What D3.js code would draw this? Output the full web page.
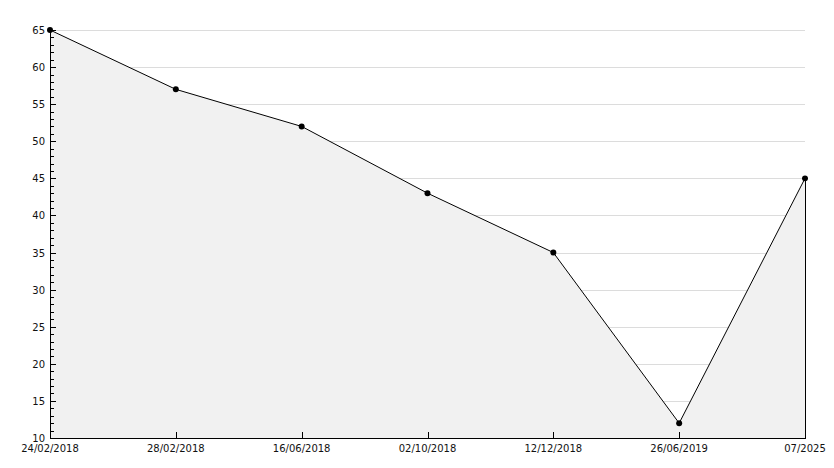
<!DOCTYPE html>
<html><head><meta charset="utf-8">
<script src="https://cdn.jsdelivr.net/npm/d3@7"></script>
<style>body{margin:0;background:#fff}svg{display:block}</style>
</head><body>
<script>
const categories = ["24/02/2018","28/02/2018","16/06/2018","02/10/2018","12/12/2018","26/06/2019","07/2025"];
const values = [65, 57, 52, 43, 35, 12, 45];
const yTicks = [10,15,20,25,30,35,40,45,50,55,60,65];

const W = 834, H = 468;
const svg = d3.select("body").append("svg").attr("width", W).attr("height", H);
const x = d3.scalePoint().domain(categories).range([50, 805]);
const y = d3.scaleLinear().domain([10, 65]).range([438, 30]);
const font = "'DejaVu Sans', Verdana, sans-serif";

// grid
svg.append("g").selectAll("line").data(yTicks.filter(t => t > 10)).join("line")
  .attr("x1", 50).attr("x2", 805)
  .attr("y1", d => Math.round(y(d)) + 0.5).attr("y2", d => Math.round(y(d)) + 0.5)
  .attr("stroke", "#dcdcdc").attr("stroke-width", 1);

const data = categories.map((c, i) => ({c, v: values[i]}));
// area
svg.append("path").datum(data)
  .attr("d", d3.area().x(d => x(d.c)).y0(y(10)).y1(d => y(d.v)))
  .attr("fill", "#f1f1f1");
// right closing edge
const last = data[data.length - 1];
svg.append("line").attr("x1", x(last.c) + 0.5).attr("x2", x(last.c) + 0.5)
  .attr("y1", y(last.v)).attr("y2", y(10)).attr("stroke", "#000");
// line
svg.append("path").datum(data)
  .attr("d", d3.line().x(d => x(d.c)).y(d => y(d.v)))
  .attr("fill", "none").attr("stroke", "#000").attr("stroke-width", 1);

// y axis
const yAxis = svg.append("g");
yAxis.append("line").attr("x1", 50.5).attr("x2", 50.5).attr("y1", 30).attr("y2", 438).attr("stroke", "#000");
const minor = d3.range(10, 66, 1);
yAxis.selectAll("line.t").data(minor).join("line").attr("class", "t")
  .attr("x1", 50).attr("x2", d => d % 5 === 0 ? 56 : 54)
  .attr("y1", d => Math.round(y(d)) + 0.5).attr("y2", d => Math.round(y(d)) + 0.5)
  .attr("stroke", "#000");
yAxis.selectAll("text").data(yTicks).join("text")
  .attr("x", 45).attr("y", d => y(d) + 4)
  .attr("text-anchor", "end").attr("font-family", font).attr("font-size", 10)
  .attr("fill", "#111").text(d => d);

// x axis
const xAxis = svg.append("g");
xAxis.append("line").attr("x1", 50).attr("x2", 806).attr("y1", 438.5).attr("y2", 438.5).attr("stroke", "#000");
xAxis.selectAll("line.t").data(categories).join("line").attr("class", "t")
  .attr("x1", d => Math.round(x(d)) + 0.5).attr("x2", d => Math.round(x(d)) + 0.5)
  .attr("y1", 432).attr("y2", 438).attr("stroke", "#000");
xAxis.selectAll("text").data(categories).join("text")
  .attr("x", d => x(d)).attr("y", 452)
  .attr("text-anchor", "middle").attr("font-family", font).attr("font-size", 10)
  .attr("fill", "#111").text(d => d);

// markers
svg.append("g").selectAll("path").data(data).join("path")
  .attr("transform", d => `translate(${x(d.c)},${y(d.v)})`)
  .attr("d", d3.symbol().type(d3.symbolCircle).size(28))
  .attr("fill", "#000");
</script>
</body></html>
